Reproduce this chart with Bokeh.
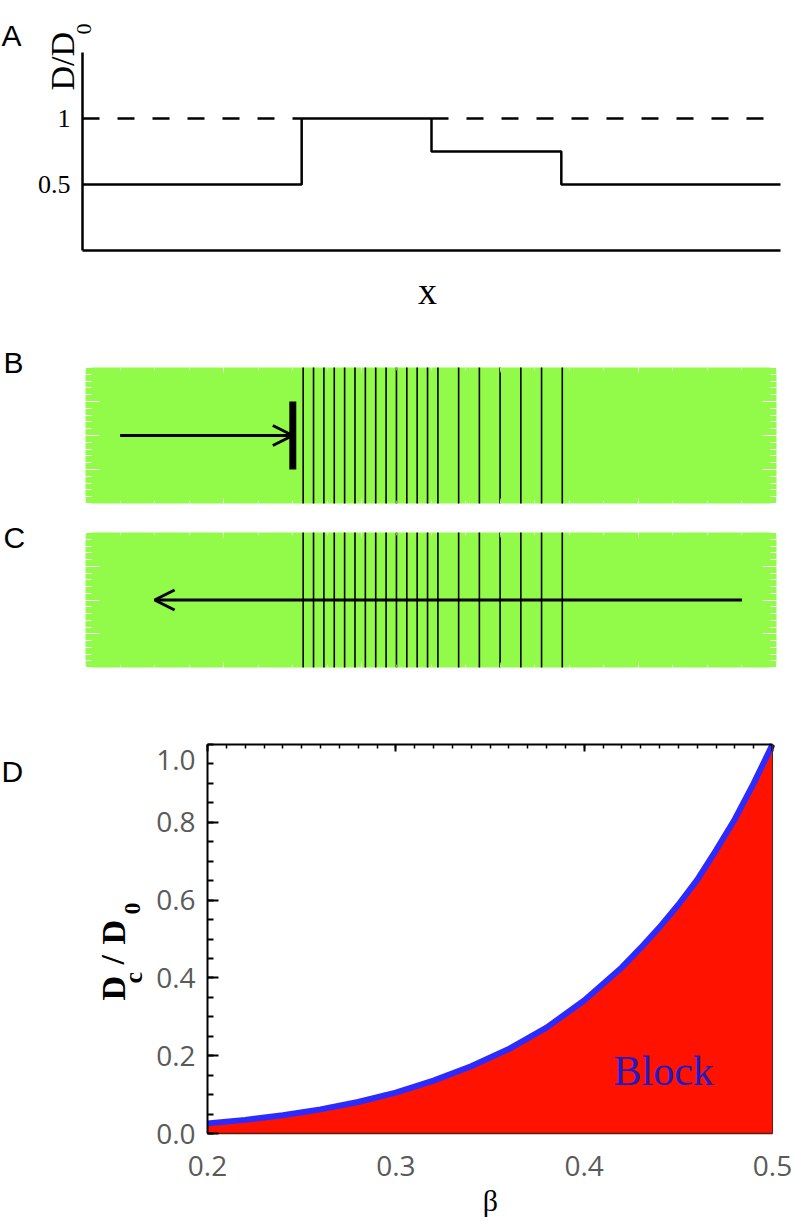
import math
from bokeh.plotting import figure
from bokeh.models import (Range1d, LinearAxis, FixedTicker, PrintfTickFormatter, Label,
                          Arrow, OpenHead)
from bokeh.embed import file_html
from bokeh.resources import INLINE

# ---------------- data ----------------
# Panel A: step profile of D/D0 along x (x in arbitrary units 0..100)
a_edges = [0, 31.4, 50, 68.6, 100]
a_levels = [0.5, 1.0, 0.75, 0.5]
a_ref_level = 1.0
a_yticks = [0.5, 1.0]

# Panels B and C: cell boundaries (x in the same arbitrary units 0..100)
strip_x = [0, 100]
strip_y = [0, 1]
grid_lines = [31.5, 33, 34.5, 36, 37.5, 39, 40.5, 42, 43.5, 45, 46.5, 48, 49.5, 51,
              54, 57, 60, 63, 66, 69]
arrow_b = [5, 30]
blocker_x = 30
blocker_span = [0.25, 0.75]
arrow_c = [95, 10]
arrow_y = 0.5
strip_major_y = [0.25, 0.5, 0.75]
strip_minor_y = [round(0.05 * i, 4) for i in range(21)]
strip_major_x = [0, 20, 40, 60, 80, 100]
strip_minor_x = [5 * i for i in range(21)]

# Panel D: critical D/D0 versus beta
beta = [0.20, 0.22, 0.24, 0.26, 0.28, 0.30, 0.32, 0.34, 0.36, 0.38, 0.40,
        0.42, 0.43, 0.44, 0.45, 0.46, 0.47, 0.48, 0.49, 0.50]
dc_d0 = [0.026, 0.035, 0.047, 0.062, 0.081, 0.105, 0.136, 0.173, 0.217, 0.272, 0.342,
         0.427, 0.477, 0.530, 0.588, 0.652, 0.728, 0.808, 0.900, 1.000]
d_xticks = [0.2, 0.3, 0.4, 0.5]
d_xminor = [round(0.2 + 0.01 * i, 4) for i in range(31)]
d_yticks = [0.0, 0.2, 0.4, 0.6, 0.8]
d_yminor = [round(0.05 * i, 4) for i in range(21)]

GREEN = "#92fb4a"
RED = "#ff1300"
BLUE = "#2b2bff"
SERIF = "Liberation Serif"
SANS = "Liberation Sans"
TICKFONT = "Open Sans"
TICKCOLOR = "#5a5a5a"

# page geometry: the canvas covers picture pixels 0..794 x 0..1218
PL, PR, PT, PB = 0, 794, 0, 1218
p = figure(width=PR - PL, height=PB - PT, x_range=Range1d(PL, PR), y_range=Range1d(PB, PT),
           x_axis_type=None, y_axis_type=None, output_backend="svg",
           toolbar_location=None, min_border=0)
p.outline_line_color = None
p.background_fill_color = "white"
p.border_fill_color = "white"

xr, yr = {}, {}


def panel(name, x0, x1, X0, X1, y0, y1, Y0, Y1):
    kx = (x1 - x0) / (X1 - X0)
    ky = (y1 - y0) / (Y0 - Y1)
    xr[name] = Range1d(x0 - (X0 - PL) * kx, x1 + (PR - X1) * kx)
    yr[name] = Range1d(y0 - (PB - Y0) * ky, y1 + (Y1 - PT) * ky)
    p.extra_x_ranges = dict(xr)
    p.extra_y_ranges = dict(yr)
    return dict(x_range_name=name, y_range_name=name)


def axis(side, name, loc, bounds, ticker):
    ax = LinearAxis(x_range_name=name, y_range_name=name, fixed_location=loc,
                    bounds=bounds, ticker=ticker)
    p.add_layout(ax, side)
    return ax


def tick_axis(side, name, loc, bounds, positions, length, color, width=1.0, alpha=1.0,
              line_color=None, line_width=1.0):
    ax = axis(side, name, loc, bounds, FixedTicker(ticks=[], minor_ticks=positions))
    ax.minor_tick_in = length
    ax.minor_tick_out = 0
    ax.minor_tick_line_color = color
    ax.minor_tick_line_width = width
    ax.minor_tick_line_alpha = alpha
    ax.major_tick_line_color = None
    ax.axis_line_color = line_color
    ax.axis_line_width = line_width
    return ax


def text(x, y, s, font, size, align="left", baseline="alphabetic", angle=0.0,
         color="black", style="normal"):
    p.add_layout(Label(x=x, y=y, text=s, text_font=font, text_font_size=size,
                       text_align=align, text_baseline=baseline, angle=angle,
                       text_color=color, text_font_style=style))


# ---------------- Panel A ----------------
ra = panel("A", 0, 100, 82, 780, 0, 1.5, 250, 52)
p.line([a_edges[0], a_edges[1]], [a_ref_level, a_ref_level], line_color="black",
       line_width=2.5, line_dash="17 18", **ra)
p.line([a_edges[2], a_edges[-1]], [a_ref_level, a_ref_level], line_color="black",
       line_width=2.5, line_dash="17 18", **ra)
p.step(x=a_edges, y=a_levels + [a_levels[-1]], mode="after", line_color="black",
       line_width=2.5, **ra)

axa_y = axis("left", "A", 0, (0, 1.5), FixedTicker(ticks=a_yticks))
axa_y.formatter = PrintfTickFormatter(format="%g")
axa_y.major_tick_line_color = None
axa_y.minor_tick_line_color = None
axa_y.major_tick_out = 0
axa_y.major_label_standoff = 12
axa_y.major_label_text_font = SERIF
axa_y.major_label_text_font_size = "26px"
axa_y.major_label_text_color = "black"
axa_y.axis_line_width = 2.5
axa_x = axis("below", "A", 0, (0, 100), FixedTicker(ticks=[]))
axa_x.major_tick_line_color = None
axa_x.minor_tick_line_color = None
axa_x.axis_line_width = 2.5

text(1, 35, "A", SANS, "30px")
text(62, 90, "D/D", SERIF, "34px", angle=math.pi / 2)
text(83, 34, "0", SERIF, "22px", angle=math.pi / 2)
text(427, 290, "x", SERIF, "38px", align="center")


# ---------------- Panels B, C ----------------
def strip(name, top, bottom):
    rs = panel(name, 0, 100, 85, 776, 0, 1, bottom, top)
    p.quad(left=strip_x[0], right=strip_x[1], bottom=strip_y[0], top=strip_y[1],
           fill_color=GREEN, line_color=None, **rs)
    b_y = (strip_y[0], strip_y[1])
    b_x = (strip_x[0], strip_x[1])
    for side, loc in (("left", strip_x[0]), ("right", strip_x[1])):
        tick_axis(side, name, loc, b_y, strip_minor_y, 6, "white")
        tick_axis(side, name, loc, b_y, strip_major_y, 14, "white")
    for side, loc in (("above", strip_y[1]), ("below", strip_y[0])):
        tick_axis(side, name, loc, b_x, strip_minor_x, 3, "white", alpha=0.6)
        tick_axis(side, name, loc, b_x, strip_major_x, 5, "white", alpha=0.6)
    p.segment(x0=grid_lines, y0=strip_y[0], x1=grid_lines, y1=strip_y[1],
              line_color="black", line_width=1.6, **rs)
    return rs


rb = strip("B", 367, 503)
p.segment(x0=[blocker_x], y0=[blocker_span[0]], x1=[blocker_x], y1=[blocker_span[1]],
          line_color="black", line_width=7, **rb)
p.add_layout(Arrow(end=OpenHead(size=20, line_width=3, line_color="black"),
                   x_start=arrow_b[0], y_start=arrow_y, x_end=arrow_b[1], y_end=arrow_y,
                   line_width=3, line_color="black", **rb))
text(3, 362, "B", SANS, "30px")

rc = strip("C", 532, 667)
p.add_layout(Arrow(end=OpenHead(size=20, line_width=3, line_color="black"),
                   x_start=arrow_c[0], y_start=arrow_y, x_end=arrow_c[1], y_end=arrow_y,
                   line_width=3, line_color="black", **rc))
text(3, 537, "C", SANS, "30px")

# ---------------- Panel D ----------------
rd = panel("D", 0.2, 0.5, 207, 772, 0, 1, 1133, 744)
p.varea(x=beta, y1=0, y2=dc_d0, fill_color=RED, **rd)
p.line(beta, dc_d0, line_color=BLUE, line_width=6, **rd)

axd_l = axis("left", "D", 0.2, (0, 1), FixedTicker(ticks=d_yticks, minor_ticks=d_yminor))
axd_l.formatter = PrintfTickFormatter(format="%.1f")
axd_l.major_tick_in = 11
axd_l.major_tick_out = 0
axd_l.minor_tick_in = 6
axd_l.minor_tick_out = 0
axd_l.major_tick_line_width = 2
axd_l.minor_tick_line_width = 2
axd_l.axis_line_width = 2
axd_l.major_label_standoff = 12

axd_b = axis("below", "D", 0, (0.2, 0.5), FixedTicker(ticks=d_xticks))
axd_b.formatter = PrintfTickFormatter(format="%.1f")
axd_b.major_tick_line_color = None
axd_b.minor_tick_line_color = None
axd_b.major_tick_out = 0
axd_b.axis_line_color = "#5a1a12"
axd_b.axis_line_width = 1.5
axd_b.major_label_standoff = 22

for ax in (axd_l, axd_b):
    ax.major_label_text_font = TICKFONT
    ax.major_label_text_font_size = "28px"
    ax.major_label_text_color = TICKCOLOR

tick_axis("above", "D", 1, (0.2, 0.5), d_xminor, 4, "black", width=1.5,
          line_color="black", line_width=2)
tick_axis("above", "D", 1, (0.2, 0.5), d_xticks, 7, "black", width=2)
tick_axis("right", "D", 0.5, (0, 1), [], 0, None, line_color="#6a1a12", line_width=1)

text(195, 759, "1.0", TICKFONT, "28px", align="right", baseline="middle", color=TICKCOLOR)
text(613, 1070, "Block", SERIF, "42px", color="#1c1cc8")
text(490, 1200, "β", SERIF, "30px", align="center")
text(1, 771, "D", SANS, "30px")
for s, bx, by, fs in [("D", 113, 1000, "34px"), ("c", 133, 983, "26px"),
                      ("/", 112, 964, "34px"), ("D", 113, 944, "34px"),
                      ("0", 132, 914, "24px")]:
    text(bx, by, s, SERIF, fs, angle=math.pi / 2, style="bold")

open("out.html", "w").write(file_html(p, INLINE))
